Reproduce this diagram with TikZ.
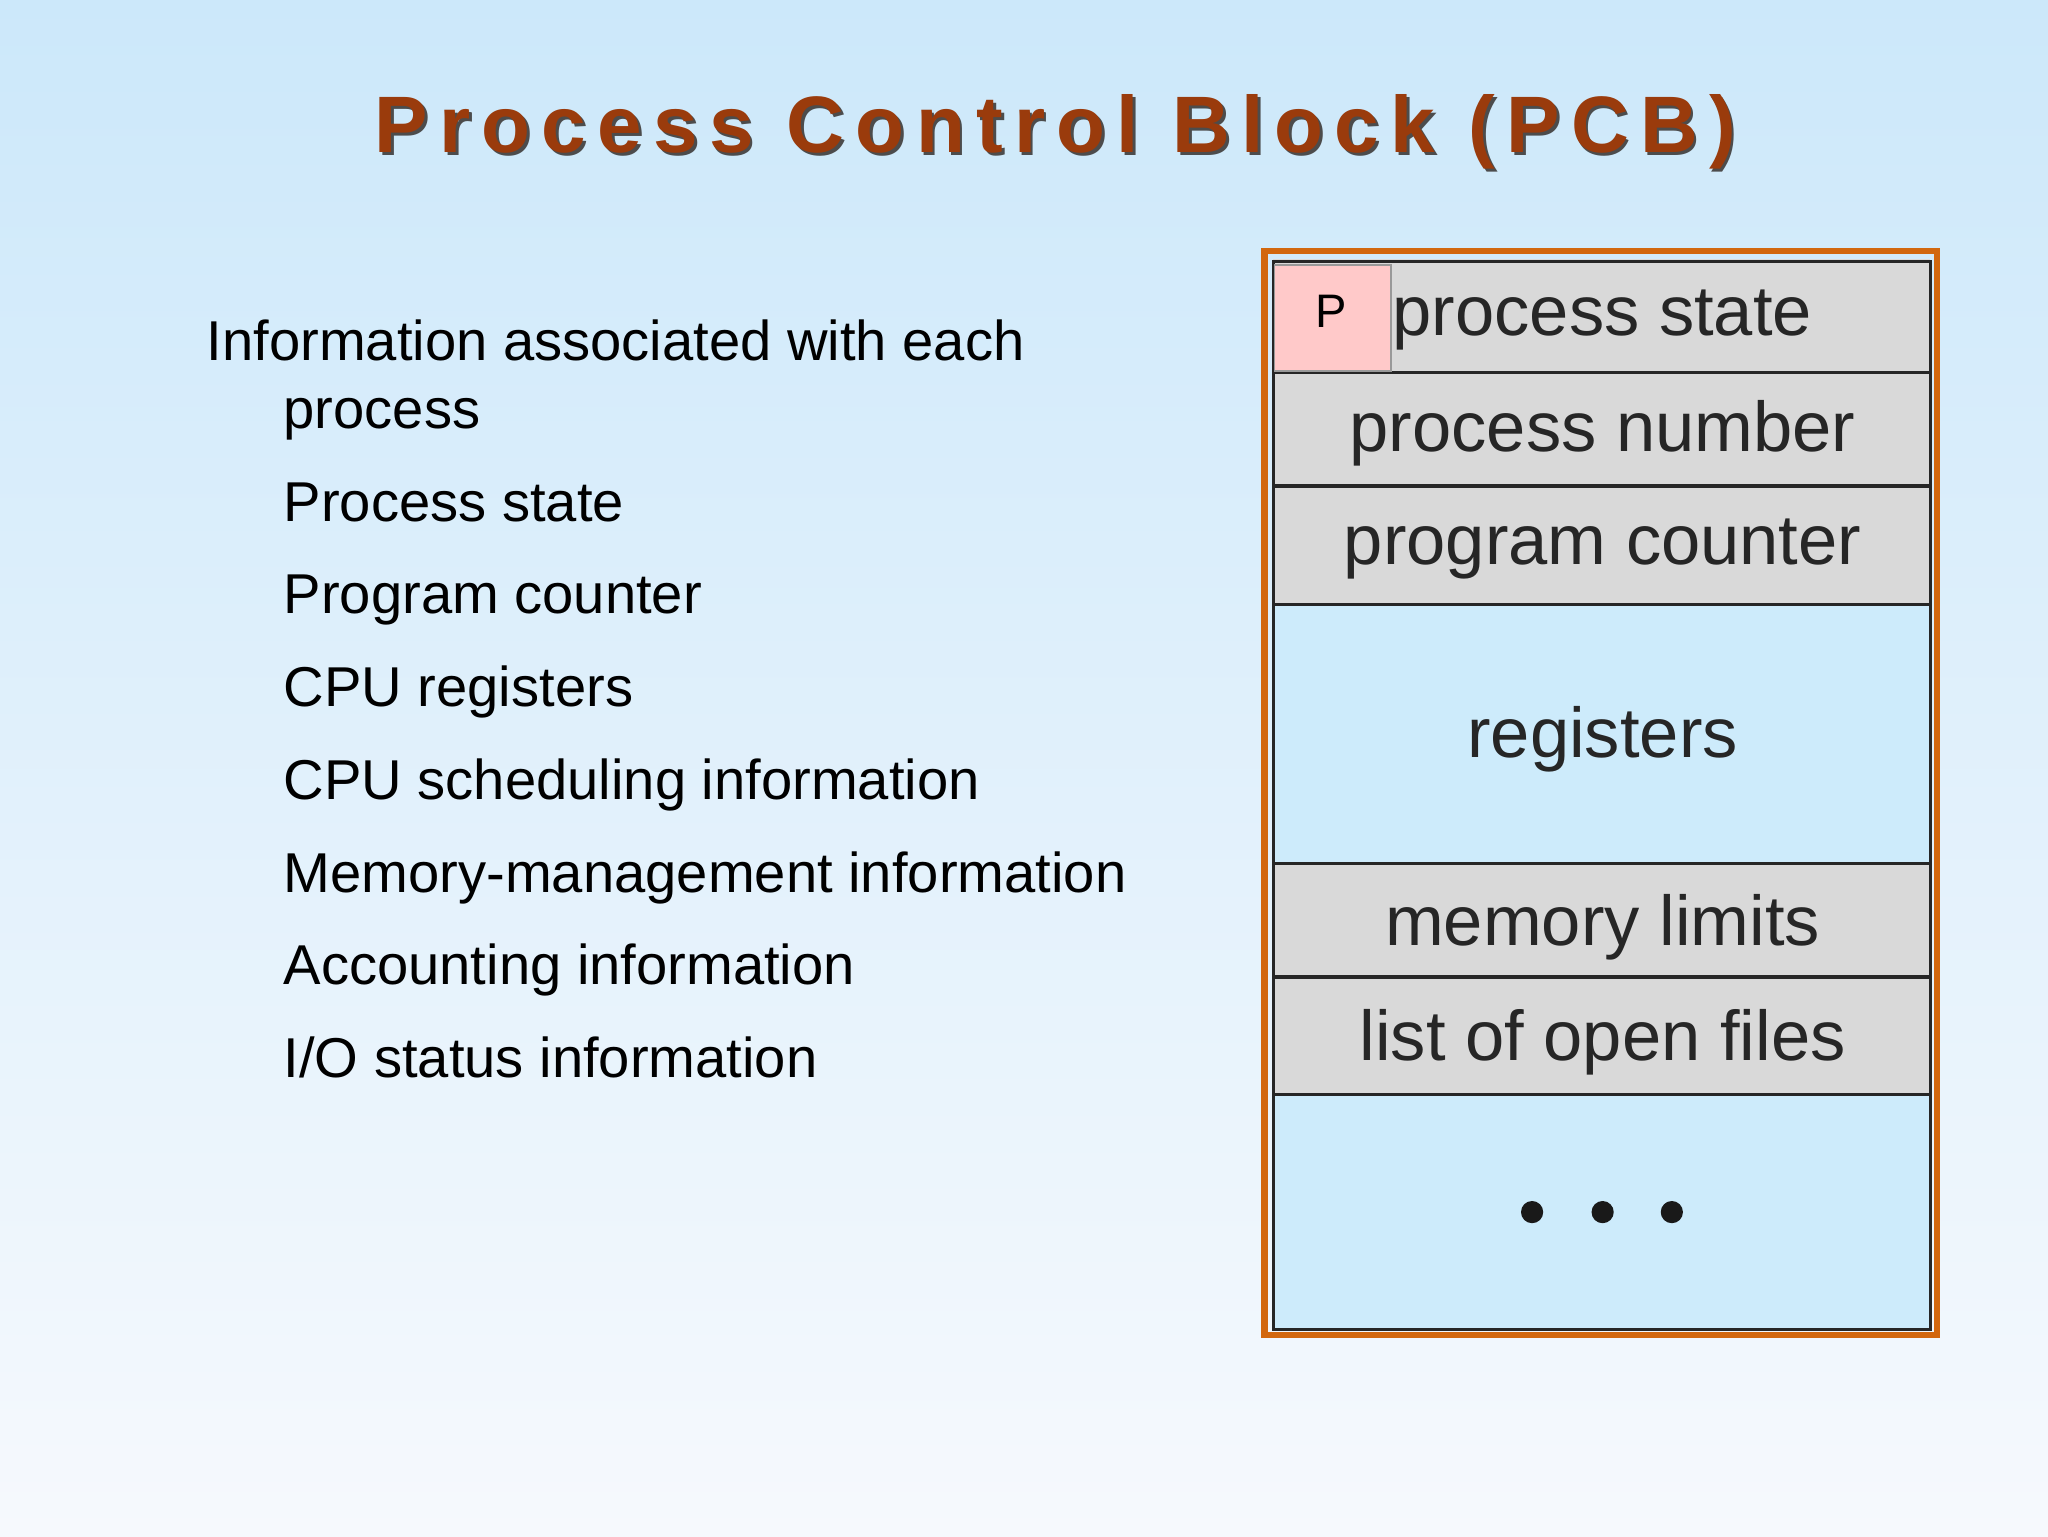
\documentclass[tikz,border=0pt]{standalone}
\usepackage{fontspec}
\setmainfont{Liberation Sans}
\definecolor{bgtop}{HTML}{CCE8FA}
\definecolor{bgbot}{HTML}{F6F9FD}
\definecolor{ttl}{HTML}{9A3B0C}
\definecolor{cell}{HTML}{D9D9D9}
\definecolor{blu}{HTML}{CDEBFB}
\definecolor{pink}{HTML}{FFC9C9}
\definecolor{org}{HTML}{D2670E}
\begin{document}
\begin{tikzpicture}[x=1pt,y=-1pt,
  row/.style={draw=black!85,line width=2.5pt},
  lt/.style={anchor=base west,inner sep=0pt,font=\fontsize{43}{50}\selectfont},
  bt/.style={font=\fontsize{54}{62}\selectfont,text=black!85}]
\useasboundingbox (0,0) rectangle (1568,1176);
\shade[top color=bgtop,bottom color=bgbot] (0,0) rectangle (1568,1176);
% title with shadow
\node[text=ttl] (title) at (808,102) {\resizebox{1042pt}{!}{\bfseries\addfontfeatures{LetterSpace=14}\color{black!70}\rlap{\hspace{0.35pt}\raisebox{-0.35pt}{Process Control Block (PCB)}}\color{ttl}Process Control Block (PCB)}};
% left text
\node[lt] (t0) at (158,276) {Information associated with each};
\node[lt] (t1) at (217,328) {process};
\node[lt] (t2) at (217,399) {Process state};
\node[lt] (t3) at (217,470) {Program counter};
\node[lt] (t4) at (217,541) {CPU registers};
\node[lt] (t5) at (217,612) {CPU scheduling information};
\node[lt] (t6) at (217,683) {Memory-management information};
\node[lt] (t7) at (217,754) {Accounting information};
\node[lt] (t8) at (217,825) {I/O status information};
% box
\draw[org,line width=5pt] (968,192) rectangle (1483,1022);
\fill[cell] (975,198) rectangle (1478,463);
\fill[blu] (975,463) rectangle (1478,661);
\fill[cell] (975,661) rectangle (1478,838);
\fill[blu] (975,838) rectangle (1478,1018);
\foreach \y in {285,372,463,661,748,838}{\draw[row] (975,\y) -- (1478,\y);}
\draw[row] (975,200) rectangle (1478,1018);
\fill[pink] (976,203) rectangle (1065,284);
\draw[black!40,line width=1pt] (976,203) rectangle (1065,284);
\node[font=\fontsize{36}{40}\selectfont] (p) at (1019,238) {P};
\node[bt,anchor=west,inner sep=0pt] (c1) at (1066,245) {process state};
\node[bt] (c2) at (1227,332) {process number};
\node[bt] (c3) at (1227,420) {program counter};
\node[bt] (c4) at (1227,566) {registers};
\node[bt] (c5) at (1227,710) {memory limits};
\node[bt] (c6) at (1227,798) {list of open files};
\foreach \x in {1173,1227,1280}{\fill[black!90] (\x,928) circle (8.5);}
\end{tikzpicture}
\end{document}
